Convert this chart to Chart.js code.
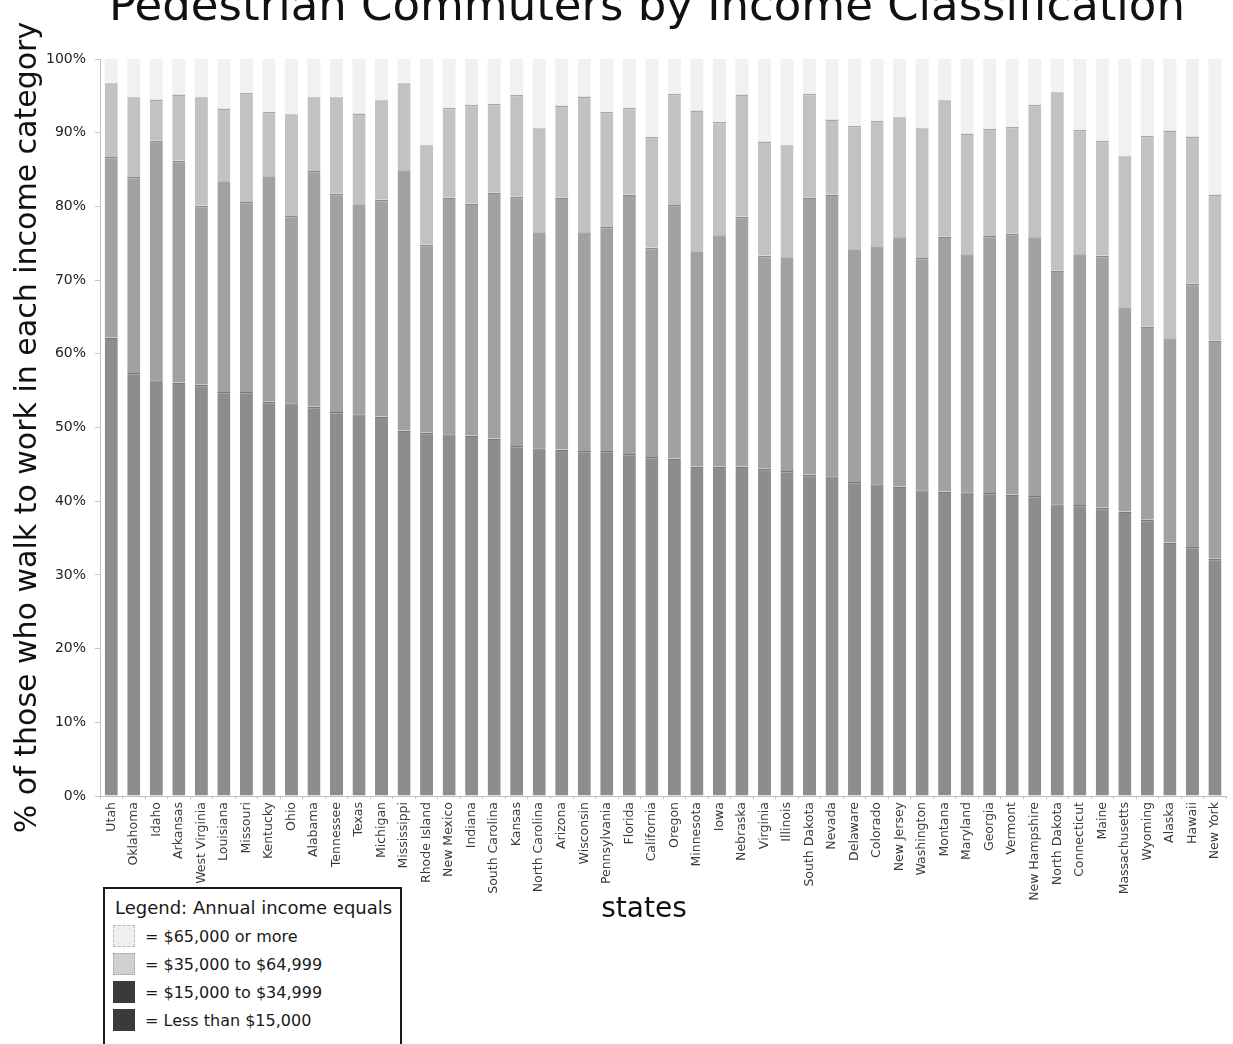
<!DOCTYPE html>
<html>
<head>
<meta charset="utf-8">
<title>Pedestrian Commuters by Income Classification</title>
<script src="https://cdn.jsdelivr.net/npm/chart.js@4/dist/chart.umd.min.js"></script>
<style>
  html, body { margin: 0; padding: 0; background: #fff; overflow: hidden; }
  #page { position: relative; width: 1233px; height: 1044px; overflow: hidden; }
  #chart { position: absolute; left: 0; top: 0; }
  #heading {
    position: absolute; left: 0; top: -18px; width: 1294px;
    text-align: center; white-space: nowrap;
    font-family: "DejaVu Sans", sans-serif; font-size: 45px; line-height: 45px;
    color: #111;
  }
  #xname {
    position: absolute; left: 544px; top: 894px; width: 200px;
    text-align: center; white-space: nowrap;
    font-family: "DejaVu Sans", sans-serif; font-size: 28px; line-height: 28px;
    color: #111;
  }
  #key {
    position: absolute; left: 103px; top: 887px; width: 295px; height: 200px;
    border: 2px solid #1a1a1a; background: #fff;
    font-family: "DejaVu Sans", sans-serif; color: #1a1a1a;
  }
  #key .head { position: absolute; left: 10px; top: 8px; font-size: 18px; line-height: 22px; white-space: nowrap; }
  #key .row { position: absolute; left: 8px; height: 24px; white-space: nowrap; font-size: 16px; line-height: 24px; }
  #key .sw { display: inline-block; width: 22px; height: 22px; vertical-align: top; margin-right: 10px; box-sizing: border-box; }
</style>
</head>
<body>
<div id="page">
  <canvas id="chart" width="1233" height="1044"></canvas>
  <div id="heading">Pedestrian Commuters by Income Classification</div>
  <div id="xname">states</div>
  <div id="key"></div>
</div>
<script>
// States, ordered by the share of walkers earning under $15,000
const states = [
  "Utah", "Oklahoma", "Idaho", "Arkansas", "West Virginia", "Louisiana", "Missouri",
  "Kentucky", "Ohio", "Alabama", "Tennessee", "Texas", "Michigan", "Mississippi",
  "Rhode Island", "New Mexico", "Indiana", "South Carolina", "Kansas", "North Carolina",
  "Arizona", "Wisconsin", "Pennsylvania", "Florida", "California", "Oregon", "Minnesota",
  "Iowa", "Nebraska", "Virginia", "Illinois", "South Dakota", "Nevada", "Delaware",
  "Colorado", "New Jersey", "Washington", "Montana", "Maryland", "Georgia", "Vermont",
  "New Hampshire", "North Dakota", "Connecticut", "Maine", "Massachusetts", "Wyoming",
  "Alaska", "Hawaii", "New York"
];

// Percent of pedestrian commuters in each income bracket
const lessThan15k = [
  62.2, 57.4, 56.4, 56.1, 55.8, 54.8, 54.8, 53.5, 53.3, 52.8,
  52.1, 51.8, 51.5, 49.6, 49.3, 49.1, 48.9, 48.5, 47.5, 47.2,
  47.0, 46.8, 46.8, 46.4, 46.0, 45.8, 44.7, 44.7, 44.7, 44.4,
  44.1, 43.6, 43.4, 42.6, 42.3, 42.0, 41.5, 41.3, 41.2, 41.1,
  40.9, 40.7, 39.6, 39.5, 39.1, 38.6, 37.5, 34.4, 33.8, 32.2
];
const from15kTo35k = [
  24.5, 26.6, 32.5, 30.1, 24.3, 28.6, 25.8, 30.6, 25.4, 32.0,
  29.6, 28.5, 29.4, 35.3, 25.5, 32.1, 31.5, 33.4, 33.8, 29.3,
  34.2, 29.7, 30.4, 35.2, 28.4, 34.4, 29.2, 31.4, 33.9, 28.9,
  29.0, 37.6, 38.2, 31.6, 32.3, 33.8, 31.5, 34.6, 32.3, 34.9,
  35.4, 35.1, 31.7, 34.0, 34.2, 27.7, 26.2, 27.7, 35.7, 29.6
];
const from35kTo65k = [
  10.0, 10.8, 5.6, 9.0, 14.7, 9.9, 14.8, 8.7, 13.8, 10.0,
  13.1, 12.3, 13.5, 11.8, 13.5, 12.2, 13.4, 12.0, 13.8, 14.1,
  12.5, 18.4, 15.6, 11.8, 15.0, 15.1, 19.1, 15.4, 16.6, 15.5,
  15.2, 14.1, 10.2, 16.7, 17.0, 16.3, 17.6, 18.5, 16.4, 14.5,
  14.5, 18.0, 24.2, 16.9, 15.6, 20.5, 25.9, 28.2, 20.0, 19.8
];
const over65k = [
  3.3, 5.2, 5.5, 4.8, 5.2, 6.7, 4.6, 7.2, 7.5, 5.2,
  5.2, 7.4, 5.6, 3.3, 11.7, 6.6, 6.2, 6.1, 4.9, 9.4,
  6.3, 5.1, 7.2, 6.6, 10.6, 4.7, 7.0, 8.5, 4.8, 11.2,
  11.7, 4.7, 8.2, 9.1, 8.4, 7.9, 9.4, 5.6, 10.1, 9.5,
  9.2, 6.2, 4.5, 9.6, 11.1, 13.2, 10.4, 9.7, 10.5, 18.4
];

const yTicks = [0, 10, 20, 30, 40, 50, 60, 70, 80, 90, 100];

const bracketNames = [
  "= Less than $15,000",
  "= $15,000 to $34,999",
  "= $35,000 to $64,999",
  "= $65,000 or more"
];

const barFill = ["#8d8d8d", "#a1a1a1", "#c2c2c2", "#f1f1f1"];
const barEdge = ["#7a7a7a", "#8c8c8c", "#a9a9a9", "#f1f1f1"];

function series(i, values) {
  return {
    label: bracketNames[i],
    data: values,
    backgroundColor: barFill[i],
    borderColor: barEdge[i],
    borderWidth: { top: i < 3 ? 1.5 : 0, left: 0, right: 0, bottom: 0 },
    borderSkipped: false,
    categoryPercentage: 1.0,
    barPercentage: 0.58
  };
}

new Chart(document.getElementById("chart"), {
  type: "bar",
  data: {
    labels: states,
    datasets: [
      series(0, lessThan15k),
      series(1, from15kTo35k),
      series(2, from35kTo65k),
      series(3, over65k)
    ]
  },
  options: {
    responsive: false,
    animation: false,
    devicePixelRatio: 1,
    layout: { padding: { top: 59, right: 5.5, bottom: 119, left: 0 } },
    plugins: {
      legend: { display: false },
      title: { display: false },
      tooltip: { enabled: false }
    },
    scales: {
      x: {
        stacked: true,
        offset: true,
        grid: { drawOnChartArea: false, drawTicks: true, tickLength: 3, color: "#c4c4c4" },
        border: { display: true, color: "#bdbdbd", width: 1 },
        ticks: {
          autoSkip: false, minRotation: 90, maxRotation: 90, padding: 3,
          color: "#3a3a3a", font: { family: "DejaVu Sans", size: 12.5 }
        },
        afterFit: (scale) => { scale.height = 129; }
      },
      y: {
        stacked: true,
        min: 0, max: 100,
        afterBuildTicks: (scale) => { scale.ticks = yTicks.map(v => ({ value: v })); },
        grid: { drawOnChartArea: false, drawTicks: true, tickLength: 5, color: "#c4c4c4" },
        border: { display: true, color: "#bdbdbd", width: 1 },
        ticks: {
          padding: 9, color: "#222", font: { family: "DejaVu Sans", size: 14 },
          callback: (v) => v + "%"
        },
        title: {
          display: true, text: "% of those who walk to work in each income category",
          color: "#111", font: { family: "DejaVu Sans", size: 30 },
          padding: { top: 10, bottom: 0 }
        },
        afterFit: (scale) => { scale.width = 100; }
      }
    }
  }
});

// Legend box, listed from the highest bracket down
const key = document.getElementById("key");
const head = document.createElement("div");
head.className = "head";
head.textContent = "Legend: Annual income equals";
key.appendChild(head);

const swatchStyles = [
  "background:#3a3a3a;",
  "background:#3a3a3a;",
  "background:#d0d0d0; border:1px dotted #9a9a9a;",
  "background:#f0f0f0; border:1px dashed #b5b5b5;"
];
[3, 2, 1, 0].forEach((b, row) => {
  const r = document.createElement("div");
  r.className = "row";
  r.style.top = (36 + row * 28) + "px";
  const sw = document.createElement("span");
  sw.className = "sw";
  sw.style.cssText = swatchStyles[b];
  r.appendChild(sw);
  r.appendChild(document.createTextNode(bracketNames[b]));
  key.appendChild(r);
});
</script>
</body>
</html>
